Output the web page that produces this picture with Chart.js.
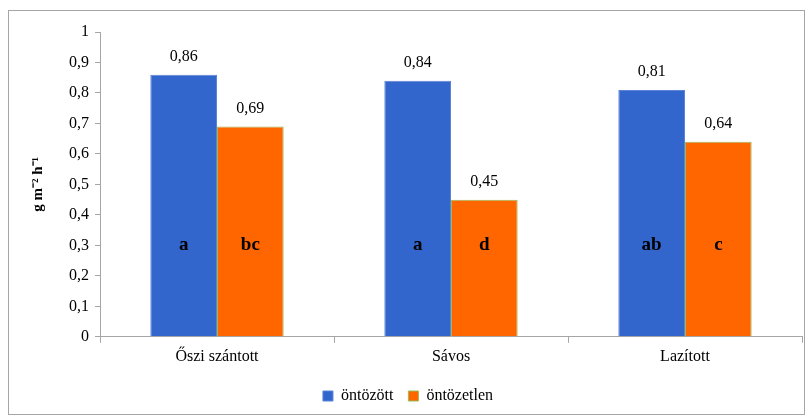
<!DOCTYPE html>
<html>
<head>
<meta charset="utf-8">
<script src="https://cdn.jsdelivr.net/npm/chart.js@4.4.1/dist/chart.umd.min.js"></script>
<style>
    html, body { margin: 0; padding: 0; background: #fff; }
    #wrap { position: relative; width: 808px; height: 420px; }
    #frame { position: absolute; left: 8px; top: 10px; width: 797px; height: 405px; border: 1px solid #a6a6a6; box-sizing: border-box; pointer-events: none; }
</style>
</head>
<body>
<div id="wrap">
    <canvas id="chart" width="808" height="420"></canvas>
    <div id="frame"></div>
</div>
<script>
// Chart data
const categories = ['Őszi szántott', 'Sávos', 'Lazított'];
const irrigated = [0.86, 0.84, 0.81];
const nonIrrigated = [0.69, 0.45, 0.64];
const irrigatedLetters = ['a', 'a', 'ab'];
const nonIrrigatedLetters = ['bc', 'd', 'c'];
const yTicks = [0, 0.1, 0.2, 0.3, 0.4, 0.5, 0.6, 0.7, 0.8, 0.9, 1];
const letterLevel = 0.3;

const serif = "'Liberation Serif', 'Times New Roman', serif";

function fmt(v) {
    return String(Math.round(v * 100) / 100).replace('.', ',');
}

// Draws the values above bars and the letters inside them
const labelPlugin = {
    id: 'barLabels',
    afterDatasetsDraw(chart) {
        const ctx = chart.ctx;
        const yScale = chart.scales.y;
        const letterSets = [irrigatedLetters, nonIrrigatedLetters];
        ctx.save();
        ctx.textAlign = 'center';
        chart.data.datasets.forEach((ds, i) => {
            const meta = chart.getDatasetMeta(i);
            meta.data.forEach((bar, j) => {
                ctx.fillStyle = '#000';
                ctx.font = '16px ' + serif;
                ctx.textBaseline = 'bottom';
                ctx.fillText(fmt(ds.data[j]), bar.x, bar.y - 10);
                ctx.font = 'bold 19px ' + serif;
                ctx.textBaseline = 'middle';
                ctx.fillText(letterSets[i][j], bar.x, yScale.getPixelForValue(letterLevel));
            });
        });
        ctx.restore();
    }
};

new Chart(document.getElementById('chart'), {
    type: 'bar',
    data: {
        labels: categories,
        datasets: [
            {
                label: 'öntözött',
                data: irrigated,
                backgroundColor: '#3366CC',
                borderColor: '#5B83D6',
                borderWidth: 1
            },
            {
                label: 'öntözetlen',
                data: nonIrrigated,
                backgroundColor: '#FF6600',
                borderColor: '#9BBB59',
                borderWidth: 1
            }
        ]
    },
    options: {
        responsive: false,
        animation: false,
        events: [],
        layout: {
            padding: { left: 14, right: 6, top: 32, bottom: 6 }
        },
        datasets: {
            bar: {
                barPercentage: 1,
                categoryPercentage: 0.57
            }
        },
        plugins: {
            legend: {
                position: 'bottom',
                labels: {
                    boxWidth: 10,
                    boxHeight: 10,
                    color: '#000',
                    padding: 15,
                    font: { family: serif, size: 16 }
                }
            },
            tooltip: { enabled: false }
        },
        scales: {
            x: {
                afterFit(scale) {
                    scale.height += 3;
                },
                grid: {
                    display: true,
                    drawOnChartArea: false,
                    offset: true,
                    tickLength: 6,
                    color: '#a6a6a6'
                },
                border: { color: '#a6a6a6' },
                ticks: {
                    color: '#000',
                    padding: 4,
                    font: { family: serif, size: 16 }
                }
            },
            y: {
                min: 0,
                max: 1,
                afterBuildTicks(scale) {
                    scale.ticks = yTicks.map(v => ({ value: v }));
                },
                afterFit(scale) {
                    scale.width = 86;
                },
                grid: {
                    display: true,
                    drawOnChartArea: false,
                    tickLength: 5,
                    color: '#a6a6a6'
                },
                border: { color: '#a6a6a6' },
                ticks: {
                    color: '#000',
                    padding: 6,
                    font: { family: serif, size: 16 },
                    callback: v => fmt(v)
                },
                title: {
                    display: true,
                    text: 'g m⁻² h⁻¹',
                    color: '#000',
                    padding: { top: 15, bottom: 0 },
                    font: { family: serif, size: 15, weight: 'bold' }
                }
            }
        }
    },
    plugins: [labelPlugin]
});
</script>
</body>
</html>
